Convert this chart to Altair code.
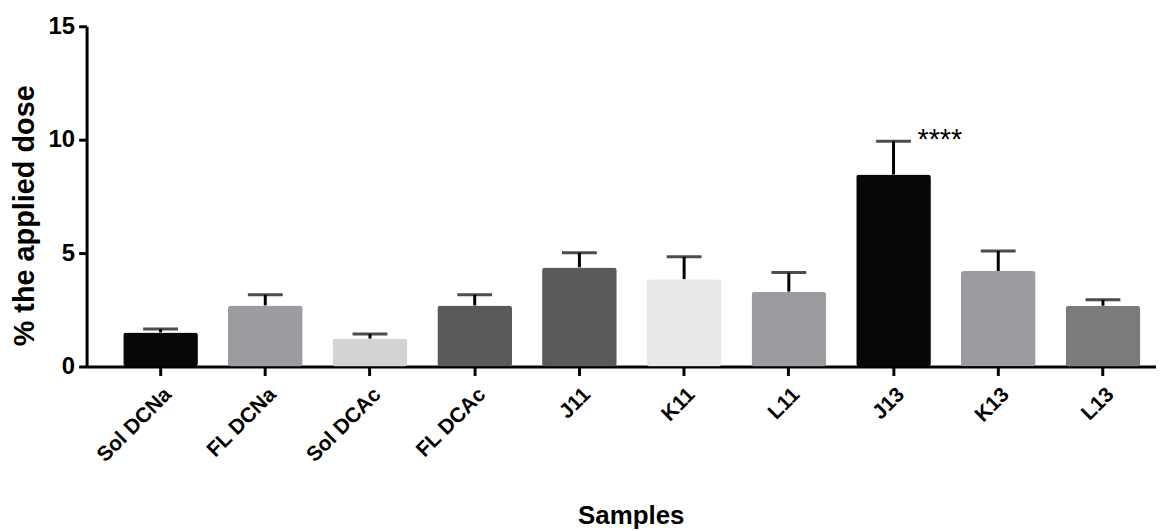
import altair as alt
import pandas as pd

samples = ["Sol DCNa", "FL DCNa", "Sol DCAc", "FL DCAc", "J11", "K11", "L11", "J13", "K13", "L13"]
means = [1.50, 2.69, 1.23, 2.69, 4.37, 3.85, 3.30, 8.46, 4.21, 2.68]
upper = [1.65, 3.16, 1.43, 3.16, 5.01, 4.84, 4.14, 9.93, 5.09, 2.94]
colors = ["#070707", "#9b9c9f", "#d3d3d3", "#5a5a5a", "#5a5a5a",
          "#e8e8e8", "#9b9c9f", "#070707", "#9b9c9f", "#7b7b79"]
annot_sample = ["J13"]
annot_text = ["****"]

df = pd.DataFrame({"sample": samples, "mean": means, "upper": upper})
ann = pd.DataFrame({"sample": annot_sample, "label": annot_text,
                    "upper": [upper[samples.index(s)] for s in annot_sample]})

FONT = "Liberation Sans"

xscale = alt.Scale(domain=samples, paddingInner=0.287, paddingOuter=0.25, align=0.7, round=False)
yscale = alt.Scale(domain=[0, 15], nice=False)

x_axis = alt.Axis(
    title="Samples", labelAngle=-45, labelAlign="right", labelBaseline="top",
    labelFont=FONT, labelFontSize=21, labelFontWeight="bold", labelColor="black",
    labelPadding=8, ticks=True, tickSize=9, tickWidth=3, tickColor="black",
    domainColor="black", domainWidth=3,
    titleFont=FONT, titleFontSize=26, titleFontWeight="bold", titleColor="black",
    titleX=547, titleY=150, titleBaseline="middle", titleAlign="center",
)
y_axis = alt.Axis(
    title="% the applied dose", values=[0, 5, 10, 15], grid=False,
    labelFont=FONT, labelFontSize=24, labelFontWeight="bold", labelColor="black",
    labelPadding=4, tickSize=8, tickWidth=3, tickColor="black",
    domainColor="black", domainWidth=3,
    titleFont=FONT, titleFontSize=29, titleFontWeight="bold", titleColor="black",
    titleX=-62, titleY=190, titleBaseline="middle", titleAlign="center", titleAngle=-90,
)

base = alt.Chart(df)

stems = base.mark_rule(color="black", strokeWidth=3).encode(
    x=alt.X("sample:N", scale=xscale, axis=x_axis, sort=samples),
    y=alt.Y("mean:Q", scale=yscale, axis=y_axis),
    y2="upper:Q",
)
caps = base.mark_tick(color="black", thickness=3, size=35).encode(
    x=alt.X("sample:N", scale=xscale, sort=samples),
    y=alt.Y("upper:Q", scale=yscale),
)
bars = base.mark_bar(cornerRadius=3).encode(
    x=alt.X("sample:N", scale=xscale, sort=samples),
    y=alt.Y("mean:Q", scale=yscale),
    color=alt.Color("sample:N", scale=alt.Scale(domain=samples, range=colors), legend=None),
)
stars = alt.Chart(ann).mark_text(
    align="left", baseline="alphabetic", dx=24, dy=8, font=FONT, fontSize=29, color="black"
).encode(
    x=alt.X("sample:N", scale=xscale, sort=samples),
    y=alt.Y("upper:Q", scale=yscale),
    text="label:N",
)

chart = alt.layer(stems, caps, bars, stars).properties(
    width=1075, height=342,
    background="white",
    autosize=alt.AutoSizeParams(type="none"),
    padding={"left": 79, "top": 17, "right": 0, "bottom": 164},
).configure_view(stroke=None)

chart.save("out.html", embed_options={"renderer": "svg", "actions": False})
